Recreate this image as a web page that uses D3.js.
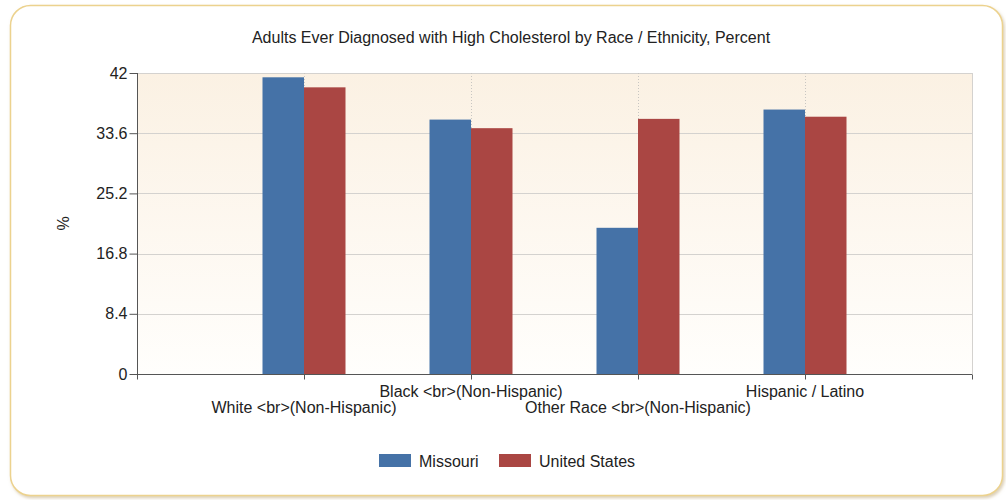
<!DOCTYPE html>
<html>
<head>
<meta charset="utf-8">
<script src="https://cdn.jsdelivr.net/npm/d3@7"></script>
<style>
  body { margin: 0; background: #fff; font-family: "Liberation Sans", Arial, sans-serif; }
  text { fill: #222; }
</style>
</head>
<body>
<div class="graphic"></div>
<script>
const categories = ["White <br>(Non-Hispanic)", "Black <br>(Non-Hispanic)", "Other Race <br>(Non-Hispanic)", "Hispanic / Latino"]
const missouri = [41.4, 35.5, 20.4, 36.9]
const unitedStates = [40.0, 34.3, 35.6, 35.9]
const seriesNames = ["Missouri", "United States"]
const yTicks = [0, 8.4, 16.8, 25.2, 33.6, 42]

const width = 1006
const height = 500
const margin = {top: 73, right: 34, bottom: 126, left: 137}
const fontSize = '16px'

const svg = d3.select('.graphic').append('svg')
    .attr('width', width)
    .attr('height', height)

const defs = svg.append('defs')
const grad = defs.append('linearGradient')
    .attr('id', 'bg')
    .attr('x1', 0).attr('y1', 0).attr('x2', 0).attr('y2', 1)
grad.append('stop').attr('offset', '0%').attr('stop-color', '#fbf1e3')
grad.append('stop').attr('offset', '100%').attr('stop-color', '#fffefc')

const shadow = defs.append('filter').attr('id', 'shadow')
    .attr('x', '-5%').attr('y', '-5%').attr('width', '110%').attr('height', '110%')
shadow.append('feDropShadow')
    .attr('dx', 1.5).attr('dy', 2).attr('stdDeviation', 1.5)
    .attr('flood-color', '#b8a070').attr('flood-opacity', 0.5)

// outer frame
svg.append('rect')
    .attr('x', 10.5).attr('y', 5.5)
    .attr('width', 992).attr('height', 490)
    .attr('rx', 20).attr('ry', 20)
    .attr('fill', '#fff')
    .attr('stroke', '#ecd28e')
    .attr('stroke-width', 1.5)
    .attr('filter', 'url(#shadow)')

svg.append('text')
    .attr('x', 511).attr('y', 43)
    .attr('text-anchor', 'middle')
    .style('font-size', fontSize)
    .text('Adults Ever Diagnosed with High Cholesterol by Race / Ethnicity, Percent')

const innerW = width - margin.left - margin.right
const innerH = height - margin.top - margin.bottom

const x = d3.scaleLinear()
    .domain([0, categories.length + 1])
    .range([margin.left, margin.left + innerW])

const y = d3.scaleLinear()
    .domain([0, 42])
    .range([margin.top + innerH, margin.top])

const g = svg.append('g')

// plot background
g.append('rect')
    .attr('x', x(0)).attr('y', y(42))
    .attr('width', x(5) - x(0)).attr('height', y(0) - y(42))
    .attr('fill', 'url(#bg)')

// horizontal grid
g.selectAll('line.hgrid')
    .data(yTicks.slice(1))
    .enter()
    .append('line')
    .attr('class', 'hgrid')
    .attr('x1', x(0)).attr('x2', x(5))
    .attr('y1', d => Math.round(y(d)) + 0.5)
    .attr('y2', d => Math.round(y(d)) + 0.5)
    .attr('stroke', '#d4d2cf')

// vertical dotted grid
g.selectAll('line.vgrid')
    .data(d3.range(1, categories.length + 1))
    .enter()
    .append('line')
    .attr('class', 'vgrid')
    .attr('x1', d => Math.round(x(d)) + 0.5)
    .attr('x2', d => Math.round(x(d)) + 0.5)
    .attr('y1', y(42)).attr('y2', y(0))
    .attr('stroke', '#c8c6c2')
    .attr('stroke-dasharray', '1,2')

// right border of plot
g.append('line')
    .attr('x1', Math.round(x(5)) + 0.5).attr('x2', Math.round(x(5)) + 0.5)
    .attr('y1', y(42)).attr('y2', y(0))
    .attr('stroke', '#d4d2cf')

// bars
const barW = 41.5
const colors = ['#4572a7', '#aa4643']
const series = [missouri, unitedStates]

series.forEach(function(vals, s){
    g.selectAll('rect.bar' + s)
        .data(vals)
        .enter()
        .append('rect')
        .attr('class', 'bar' + s)
        .attr('x', (d, i) => x(i + 1) - barW + s * barW)
        .attr('width', barW)
        .attr('y', d => y(d))
        .attr('height', d => y(0) - y(d))
        .attr('fill', colors[s])
})

// y axis
const yAxis = svg.append('g')
    .attr('transform', 'translate(' + (x(0) + 0.5) + ',0)')
    .call(d3.axisLeft(y).tickValues(yTicks).tickSize(8).tickPadding(2).tickFormat(d => d))
yAxis.select('.domain').attr('stroke', '#555').attr('d', 'M0,' + y(42) + 'V' + (y(0) + 5))
yAxis.selectAll('.tick line').attr('stroke', '#555')
yAxis.selectAll('.tick text')
    .style('fill', '#222')
    .style('font-size', fontSize)
    .style('font-family', '"Liberation Sans", Arial, sans-serif')

// x axis
const xAxis = svg.append('g')
    .attr('transform', 'translate(0,' + (Math.round(y(0)) + 0.5) + ')')
    .call(d3.axisBottom(x).ticks(5).tickSize(5).tickFormat(''))
xAxis.select('.domain').attr('stroke', '#555').attr('d', 'M' + x(0) + ',0H' + x(5))
xAxis.selectAll('.tick line').attr('stroke', '#555')

svg.selectAll('text.xlabel')
    .data(categories)
    .enter()
    .append('text')
    .attr('class', 'xlabel')
    .attr('x', (d, i) => x(i + 1))
    .attr('y', (d, i) => i % 2 == 1 ? 397 : 413)
    .attr('text-anchor', 'middle')
    .style('font-size', fontSize)
    .text(d => d)

svg.append('text')
    .attr('transform', 'translate(69,' + (y(21)) + ') rotate(-90)')
    .attr('text-anchor', 'middle')
    .style('font-size', fontSize)
    .text('%')

// legend
const legend = svg.append('g')
const legendX = [379, 499]
seriesNames.forEach(function(name, i){
    legend.append('rect')
        .attr('x', legendX[i]).attr('y', 454)
        .attr('width', 32).attr('height', 13)
        .attr('fill', colors[i])
    legend.append('text')
        .attr('x', legendX[i] + 40).attr('y', 467)
        .style('font-size', fontSize)
        .text(name)
})
</script>
</body>
</html>
